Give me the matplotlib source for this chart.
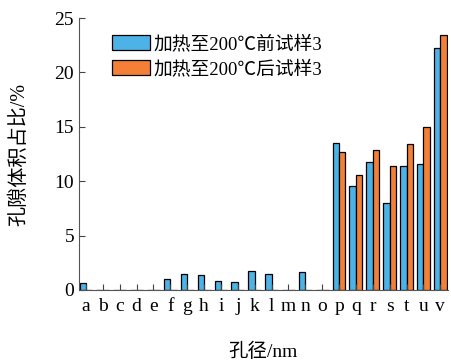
import numpy as np
import matplotlib.pyplot as plt

plt.rcParams['font.family'] = ['Liberation Serif', 'Noto Sans CJK SC']

cats = list("abcdefghijklmnopqrstuv")
before = [0.67, 0, 0, 0, 0, 1.01, 1.47, 1.38, 0.83, 0.77, 1.75, 1.47, 0, 1.62, 0,
          13.5, 9.56, 11.8, 8.0, 11.37, 11.58, 22.24]
after = [0, 0, 0, 0, 0, 0, 0, 0, 0, 0, 0, 0, 0, 0, 0,
         12.7, 10.6, 12.84, 11.37, 13.42, 14.98, 23.4]
labels = ['加热至200℃前试样3', '加热至200℃后试样3']

fig = plt.figure(figsize=(4.51, 3.62), dpi=100)
ax = fig.add_axes([0.175, 0.199, 0.818, 0.751])

x = np.arange(len(cats))
w = 0.38
ax.bar(x - w / 2, before, w, color='#4DB3E6', edgecolor='black', linewidth=0.9, label=labels[0])
ax.bar(x + w / 2, after, w, color='#F47F36', edgecolor='black', linewidth=0.9, label=labels[1])

ax.set_xlim(-0.42, len(cats) - 1 + 0.45)
ax.set_ylim(0, 25)
ax.set_yticks([0, 5, 10, 15, 20, 25])
ax.set_xticks(x)
ax.set_xticklabels(cats)
ax.tick_params(direction='in', labelsize=14, length=4, color='#444444')
ax.tick_params(axis='x', pad=6)
ax.spines['top'].set_visible(False)
ax.spines['right'].set_visible(False)
for s in ('left', 'bottom'):
    ax.spines[s].set_color('#555555')

ax.set_xlabel('孔径/nm', fontsize=14, labelpad=20)
ax.set_ylabel('孔隙体积占比/%', fontsize=14.5, labelpad=18)

leg = ax.legend(loc='upper left', bbox_to_anchor=(0.06, 0.98), frameon=False,
                fontsize=13.5, handlelength=2.0, handleheight=0.9,
                handletextpad=0.2, labelspacing=0.35, borderaxespad=0.2)

fig.savefig('out.png', dpi=100)
